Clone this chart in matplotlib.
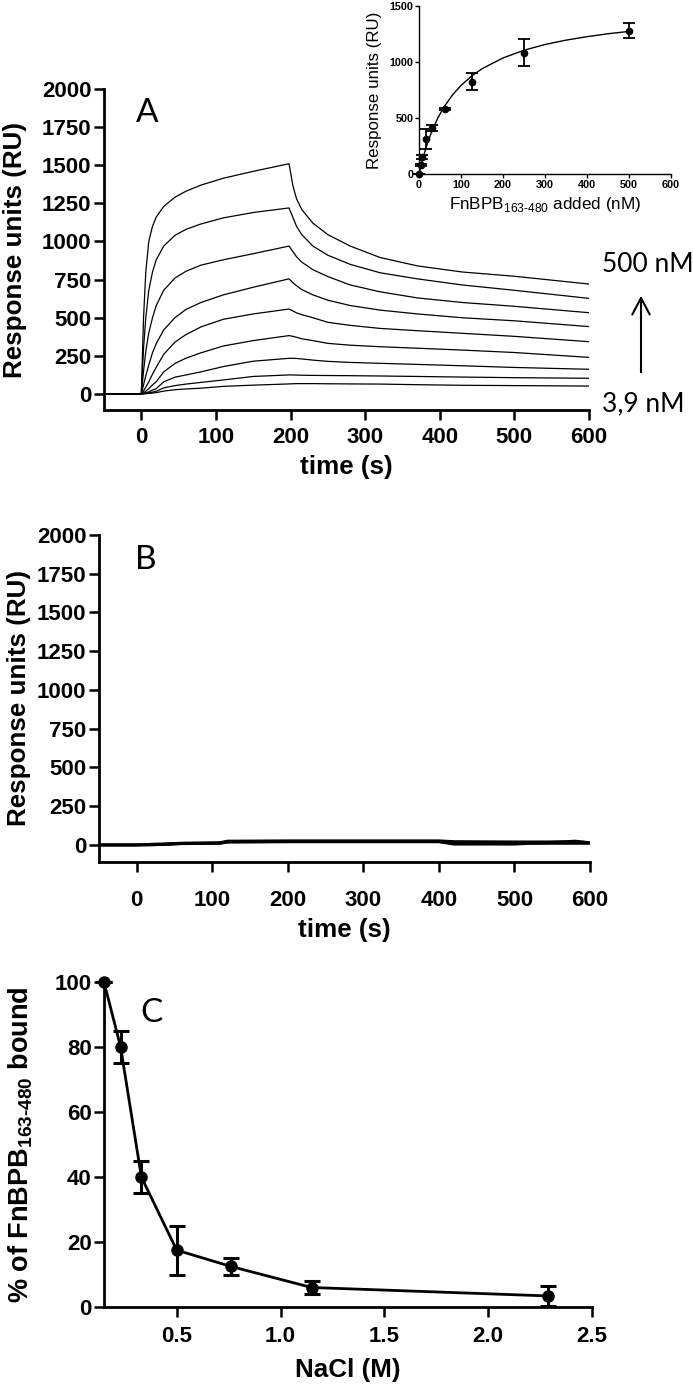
import matplotlib
matplotlib.use('Agg')
import matplotlib.pyplot as plt

# ---- panel A: SPR sensorgrams (RU vs time) ----
t_A = [-50, 0, 3, 6, 10, 15, 20, 30, 45, 60, 80, 110, 150, 198, 203, 208, 215, 230, 250, 280, 320, 370, 430, 500, 600]
ru_500 = [0, 0, 500, 800, 1000, 1100, 1160, 1230, 1290, 1330, 1370, 1415, 1460, 1510, 1370, 1280, 1210, 1120, 1045, 970, 895, 840, 800, 772, 721]
ru_250 = [0, 0, 300, 500, 680, 800, 880, 970, 1040, 1080, 1115, 1155, 1190, 1220, 1160, 1100, 1045, 970, 910, 850, 795, 755, 715, 680, 627]
ru_125 = [0, 0, 150, 280, 400, 500, 580, 680, 760, 805, 845, 880, 920, 970, 935, 900, 865, 815, 770, 715, 670, 630, 600, 575, 533]
ru_62 = [0, 0, 60, 120, 190, 270, 330, 420, 500, 555, 600, 650, 700, 755, 730, 710, 685, 650, 615, 580, 550, 525, 500, 480, 442]
ru_31 = [0, 0, 20, 45, 80, 130, 175, 260, 340, 390, 440, 490, 525, 557, 545, 532, 520, 500, 470, 450, 430, 415, 398, 378, 343]
ru_16 = [0, 0, 8, 18, 35, 60, 80, 145, 200, 235, 270, 315, 350, 383, 378, 372, 362, 350, 332, 320, 310, 300, 288, 272, 240]
ru_8 = [0, 0, 3, 7, 14, 25, 35, 80, 110, 125, 145, 180, 215, 234, 234, 233, 230, 222, 214, 207, 201, 194, 185, 174, 162]
ru_4 = [0, 0, 2, 4, 7, 12, 18, 40, 55, 65, 76, 92, 115, 125, 125, 124, 123, 122, 121, 120, 118, 115, 111, 107, 103]
ru_2 = [0, 0, 1, 2, 4, 6, 9, 19, 28, 33, 38, 50, 58, 66, 67, 68, 68, 68, 67, 66, 65, 61, 57, 55, 52]
sensorgrams = [ru_500, ru_250, ru_125, ru_62, ru_31, ru_16, ru_8, ru_4, ru_2]

# inset: steady-state binding
conc_nM = [0, 3.9, 7.8, 15.6, 31.25, 62.5, 125, 250, 500]
resp_RU = [0, 80, 150, 310, 410, 577, 824, 1080, 1275]
resp_err = [0, 10, 15, 90, 25, 10, 75, 120, 67]
fit_x = [0, 5, 10, 20, 30, 45, 60, 80, 100, 125, 150, 200, 250, 300, 350, 400, 450, 500]
fit_y = [0, 79, 150, 273, 375, 500, 600, 706, 789, 872, 938, 1034, 1103, 1154, 1193, 1224, 1250, 1271]

# ---- panel B: control surface ----
t_B = [-50, 0, 20, 40, 60, 110, 120, 200, 300, 400, 420, 500, 580, 600]
ctrl_1 = [0, 0, 5, 8, 12, 15, 25, 27, 27, 27, 22, 20, 20, 15]
ctrl_2 = [0, 0, 0, 5, 10, 12, 20, 22, 22, 22, 10, 10, 10, 10]
ctrl_3 = [0, 0, 2, 3, 8, 10, 18, 20, 20, 20, 5, 5, 25, 15]
controls = [ctrl_1, ctrl_2, ctrl_3]

# ---- panel C: NaCl dependence ----
nacl_M = [0.15, 0.23, 0.33, 0.5, 0.76, 1.15, 2.29]
bound_pct = [100, 80, 40, 17.5, 12.5, 6, 3.4]
bound_err = [0, 5, 5, 7.5, 2.5, 2, 3]

W, H = 693, 1384
fig = plt.figure(figsize=(W / 100, H / 100), dpi=100)

bold = dict(family='Liberation Sans', weight='bold')
TICK = 16
LAB = 18.7
SUB = r'$_{\mathregular{163‐480}}$'


def style(ax, xpad, lw=2.0):
    for s in ['top', 'right']:
        ax.spines[s].set_visible(False)
    for s in ['left', 'bottom']:
        ax.spines[s].set_linewidth(lw)
    ax.tick_params(direction='out', length=7, width=1.8, labelsize=TICK)
    ax.tick_params(axis='x', pad=xpad)
    ax.tick_params(axis='y', pad=2)
    for lab in ax.get_xticklabels() + ax.get_yticklabels():
        lab.set_fontfamily('Liberation Sans')
        lab.set_fontweight('bold')


def fr(left, top, right, bottom):
    return [left / W, 1 - bottom / H, (right - left) / W, (bottom - top) / H]


# panel A
axA = fig.add_axes(fr(104, 89, 589, 410))
for ru in sensorgrams:
    axA.plot(t_A, ru, color='black', lw=0.9)
axA.set_xlim(-50, 600)
axA.set_ylim(-105, 2000)
axA.set_xticks(range(0, 601, 100))
axA.set_yticks(range(0, 2001, 250))
style(axA, 5)
axA.set_xlabel('time (s)', fontsize=LAB, **bold)
axA.set_ylabel('Response units (RU)', fontsize=LAB, **bold)
axA.xaxis.set_label_coords(0.5, -0.140)
axA.yaxis.set_label_coords(-0.159, 0.5)

# inset
axI = fig.add_axes(fr(419, 5.7, 671, 174))
axI.plot(fit_x, fit_y, color='black', lw=1.0)
axI.errorbar(conc_nM, resp_RU, yerr=resp_err, fmt='o', color='black', ms=4.5,
             elinewidth=1.3, capsize=4, capthick=1.3, clip_on=False)
axI.set_xlim(0, 600)
axI.set_ylim(0, 1500)
axI.set_xticks(range(0, 601, 100))
axI.set_yticks([0, 500, 1000, 1500])
for s in ['top', 'right']:
    axI.spines[s].set_visible(False)
for s in ['left', 'bottom']:
    axI.spines[s].set_linewidth(1.0)
axI.tick_params(direction='out', length=3, width=1.0, labelsize=7.8, pad=1)
for lab in axI.get_xticklabels() + axI.get_yticklabels():
    lab.set_fontfamily('Liberation Sans')
    lab.set_fontweight('bold')
axI.set_xlabel('FnBPB' + SUB + ' added (nM)', fontsize=12.3, family='Liberation Sans')
axI.set_ylabel('Response units (RU)', fontsize=12.2, family='Liberation Sans')
axI.xaxis.set_label_coords(0.5, -0.125)
axI.yaxis.set_label_coords(-0.147, 0.5)

fig.text(147 / W, 1 - 113 / H, 'A', fontsize=24, family='Lato', ha='center', va='center')
fig.text(648 / W, 1 - 265 / H, '500 nM', fontsize=19, family='Lato', ha='center', va='center')
fig.text(643 / W, 1 - 404 / H, '3,9 nM', fontsize=19, family='Lato', ha='center', va='center')
fig.add_artist(matplotlib.patches.FancyArrowPatch(
    (641 / W, 1 - 375 / H), (641 / W, 1 - 293 / H), transform=fig.transFigure,
    arrowstyle='->,head_length=0.85,head_width=0.45', mutation_scale=14,
    lw=1.5, color='black'))

# panel B
axB = fig.add_axes(fr(99, 535, 590, 862))
for ru in controls:
    axB.plot(t_B, ru, color='black', lw=2.0)
axB.set_xlim(-50, 600)
axB.set_ylim(-110, 2000)
axB.set_xticks(range(0, 601, 100))
axB.set_yticks(range(0, 2001, 250))
style(axB, 13)
axB.set_xlabel('time (s)', fontsize=LAB, **bold)
axB.set_ylabel('Response units (RU)', fontsize=LAB, **bold)
axB.xaxis.set_label_coords(0.5, -0.171)
axB.yaxis.set_label_coords(-0.138, 0.5)
fig.text(146 / W, 1 - 560 / H, 'B', fontsize=24, family='Lato', ha='center', va='center')

# panel C
axC = fig.add_axes(fr(104, 982, 592, 1307))
axC.errorbar(nacl_M, bound_pct, yerr=bound_err, fmt='-o', color='black', ms=8, lw=2.0,
             elinewidth=2.2, capsize=6, capthick=2.2, clip_on=False)
axC.set_xlim(0.15, 2.5)
axC.set_ylim(0, 100)
axC.set_xticks([0.5, 1.0, 1.5, 2.0, 2.5])
axC.set_xticklabels(['0.5', '1.0', '1.5', '2.0', '2.5'])
axC.set_yticks(range(0, 101, 20))
style(axC, 7)
axC.set_xlabel('NaCl (M)', fontsize=LAB, **bold)
axC.set_ylabel('% of FnBPB' + SUB + ' bound', fontsize=19.5, **bold)
axC.xaxis.set_label_coords(0.5, -0.157)
axC.yaxis.set_label_coords(-0.141, 0.5)
fig.text(152 / W, 1 - 1013 / H, 'C', fontsize=24, family='Lato', ha='center', va='center')

plt.savefig('out.png', dpi=100)
